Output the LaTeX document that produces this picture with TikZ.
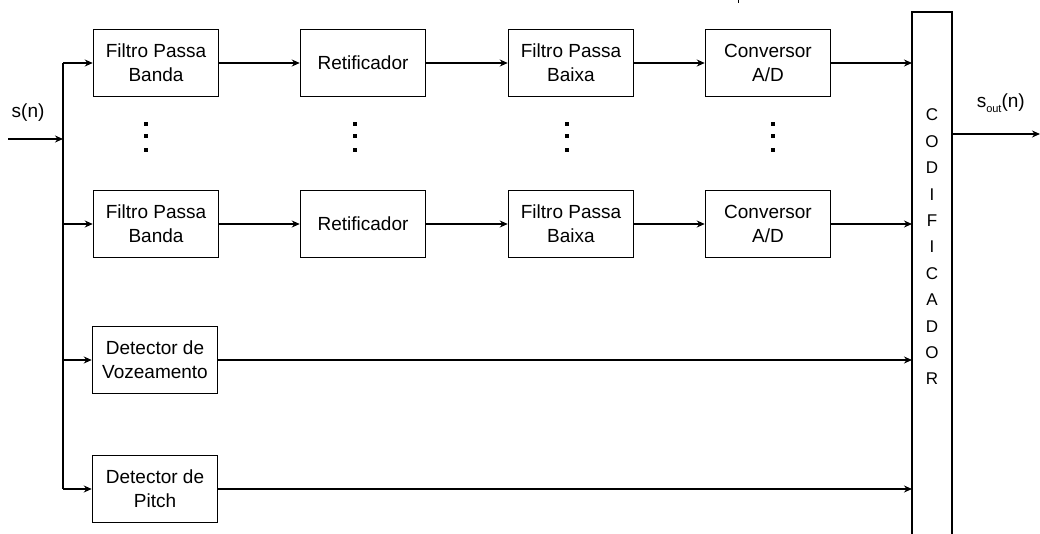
\documentclass[tikz,border=0pt]{standalone}
\usepackage{fontspec}
\setmainfont{Liberation Sans}
\usetikzlibrary{arrows.meta}
\begin{document}
\begin{tikzpicture}[x=1pt,y=-1pt,
  line width=1.5pt,
  blk/.style={draw, minimum width=125pt, minimum height=67pt, align=center,
    inner sep=0pt, font=\fontsize{19}{24}\selectfont},
  lbl/.style={font=\fontsize{19}{22}\selectfont, inner sep=0pt},
  sig/.style={-{Stealth[length=8pt,width=7pt]}},
  dot/.style={fill, minimum size=3.5pt, inner sep=0pt, shape=rectangle}]
\useasboundingbox (0,0) rectangle (1040,534);

% processing chains
\node[blk] (bp1) at (156,63) {Filtro Passa\\Banda};
\node[blk] (re1) at (363,63) {Retificador};
\node[blk] (lp1) at (571,63) {Filtro Passa\\Baixa};
\node[blk] (ad1) at (768,63) {Conversor\\A/D};
\node[blk] (bp2) at (156,224) {Filtro Passa\\Banda};
\node[blk] (re2) at (363,224) {Retificador};
\node[blk] (lp2) at (571,224) {Filtro Passa\\Baixa};
\node[blk] (ad2) at (768,224) {Conversor\\A/D};
\node[blk] (vz) at (155,360) {Detector de\\Vozeamento};
\node[blk] (pt) at (155,489) {Detector de\\Pitch};

% encoder column
\draw (912,540) -- (912,12) -- (952,12) -- (952,540);
\coordinate (codl1) at (912,63);
\coordinate (codl2) at (912,224);
\coordinate (codl3) at (912,360);
\coordinate (codl4) at (912,489);
\coordinate (codr) at (952,134);
\node[lbl, align=center, font=\fontsize{17}{26.4}\selectfont] (cod) at (932,247)
  {C\\O\\D\\I\\F\\I\\C\\A\\D\\O\\R};

% input and distribution bus
\coordinate (in) at (8,139);
\coordinate (bus) at (63,139);
\coordinate (bustop) at (63,63);
\coordinate (busbot) at (63,489);
\node[lbl, anchor=south west] (sn) at (11,122) {s(n)};
\draw[sig] (in) -- (bus);
\draw (bustop) -- (busbot);
\draw[sig] (bustop) -- (bp1.west);
\draw[sig] (63,224) -- (bp2.west);
\draw[sig] (63,360) -- (vz.west);
\draw[sig] (busbot) -- (pt.west);

% chain connections
\foreach \r in {1,2}{
  \draw[sig] (bp\r.east) -- (re\r.west);
  \draw[sig] (re\r.east) -- (lp\r.west);
  \draw[sig] (lp\r.east) -- (ad\r.west);
  \draw[sig] (ad\r.east) -- (codl\r);
}
\draw[sig] (vz.east) -- (codl3);
\draw[sig] (pt.east) -- (codl4);

% output
\coordinate (out) at (1040,134);
\draw[sig] (codr) -- (out);
\node[lbl, anchor=south west] (sout) at (976,113) {s\raisebox{-0.45ex}{\fontsize{11}{11}\selectfont out}(n)};

% ellipsis dots between the channels
\foreach \x in {146,355,567,773}{
  \foreach \y in {124,136,150}{
    \node[dot] at (\x,\y) {};
  }
}

% small stroke at the top edge
\draw[line width=1pt] (738,0) -- (738,3);
\end{tikzpicture}
\end{document}
